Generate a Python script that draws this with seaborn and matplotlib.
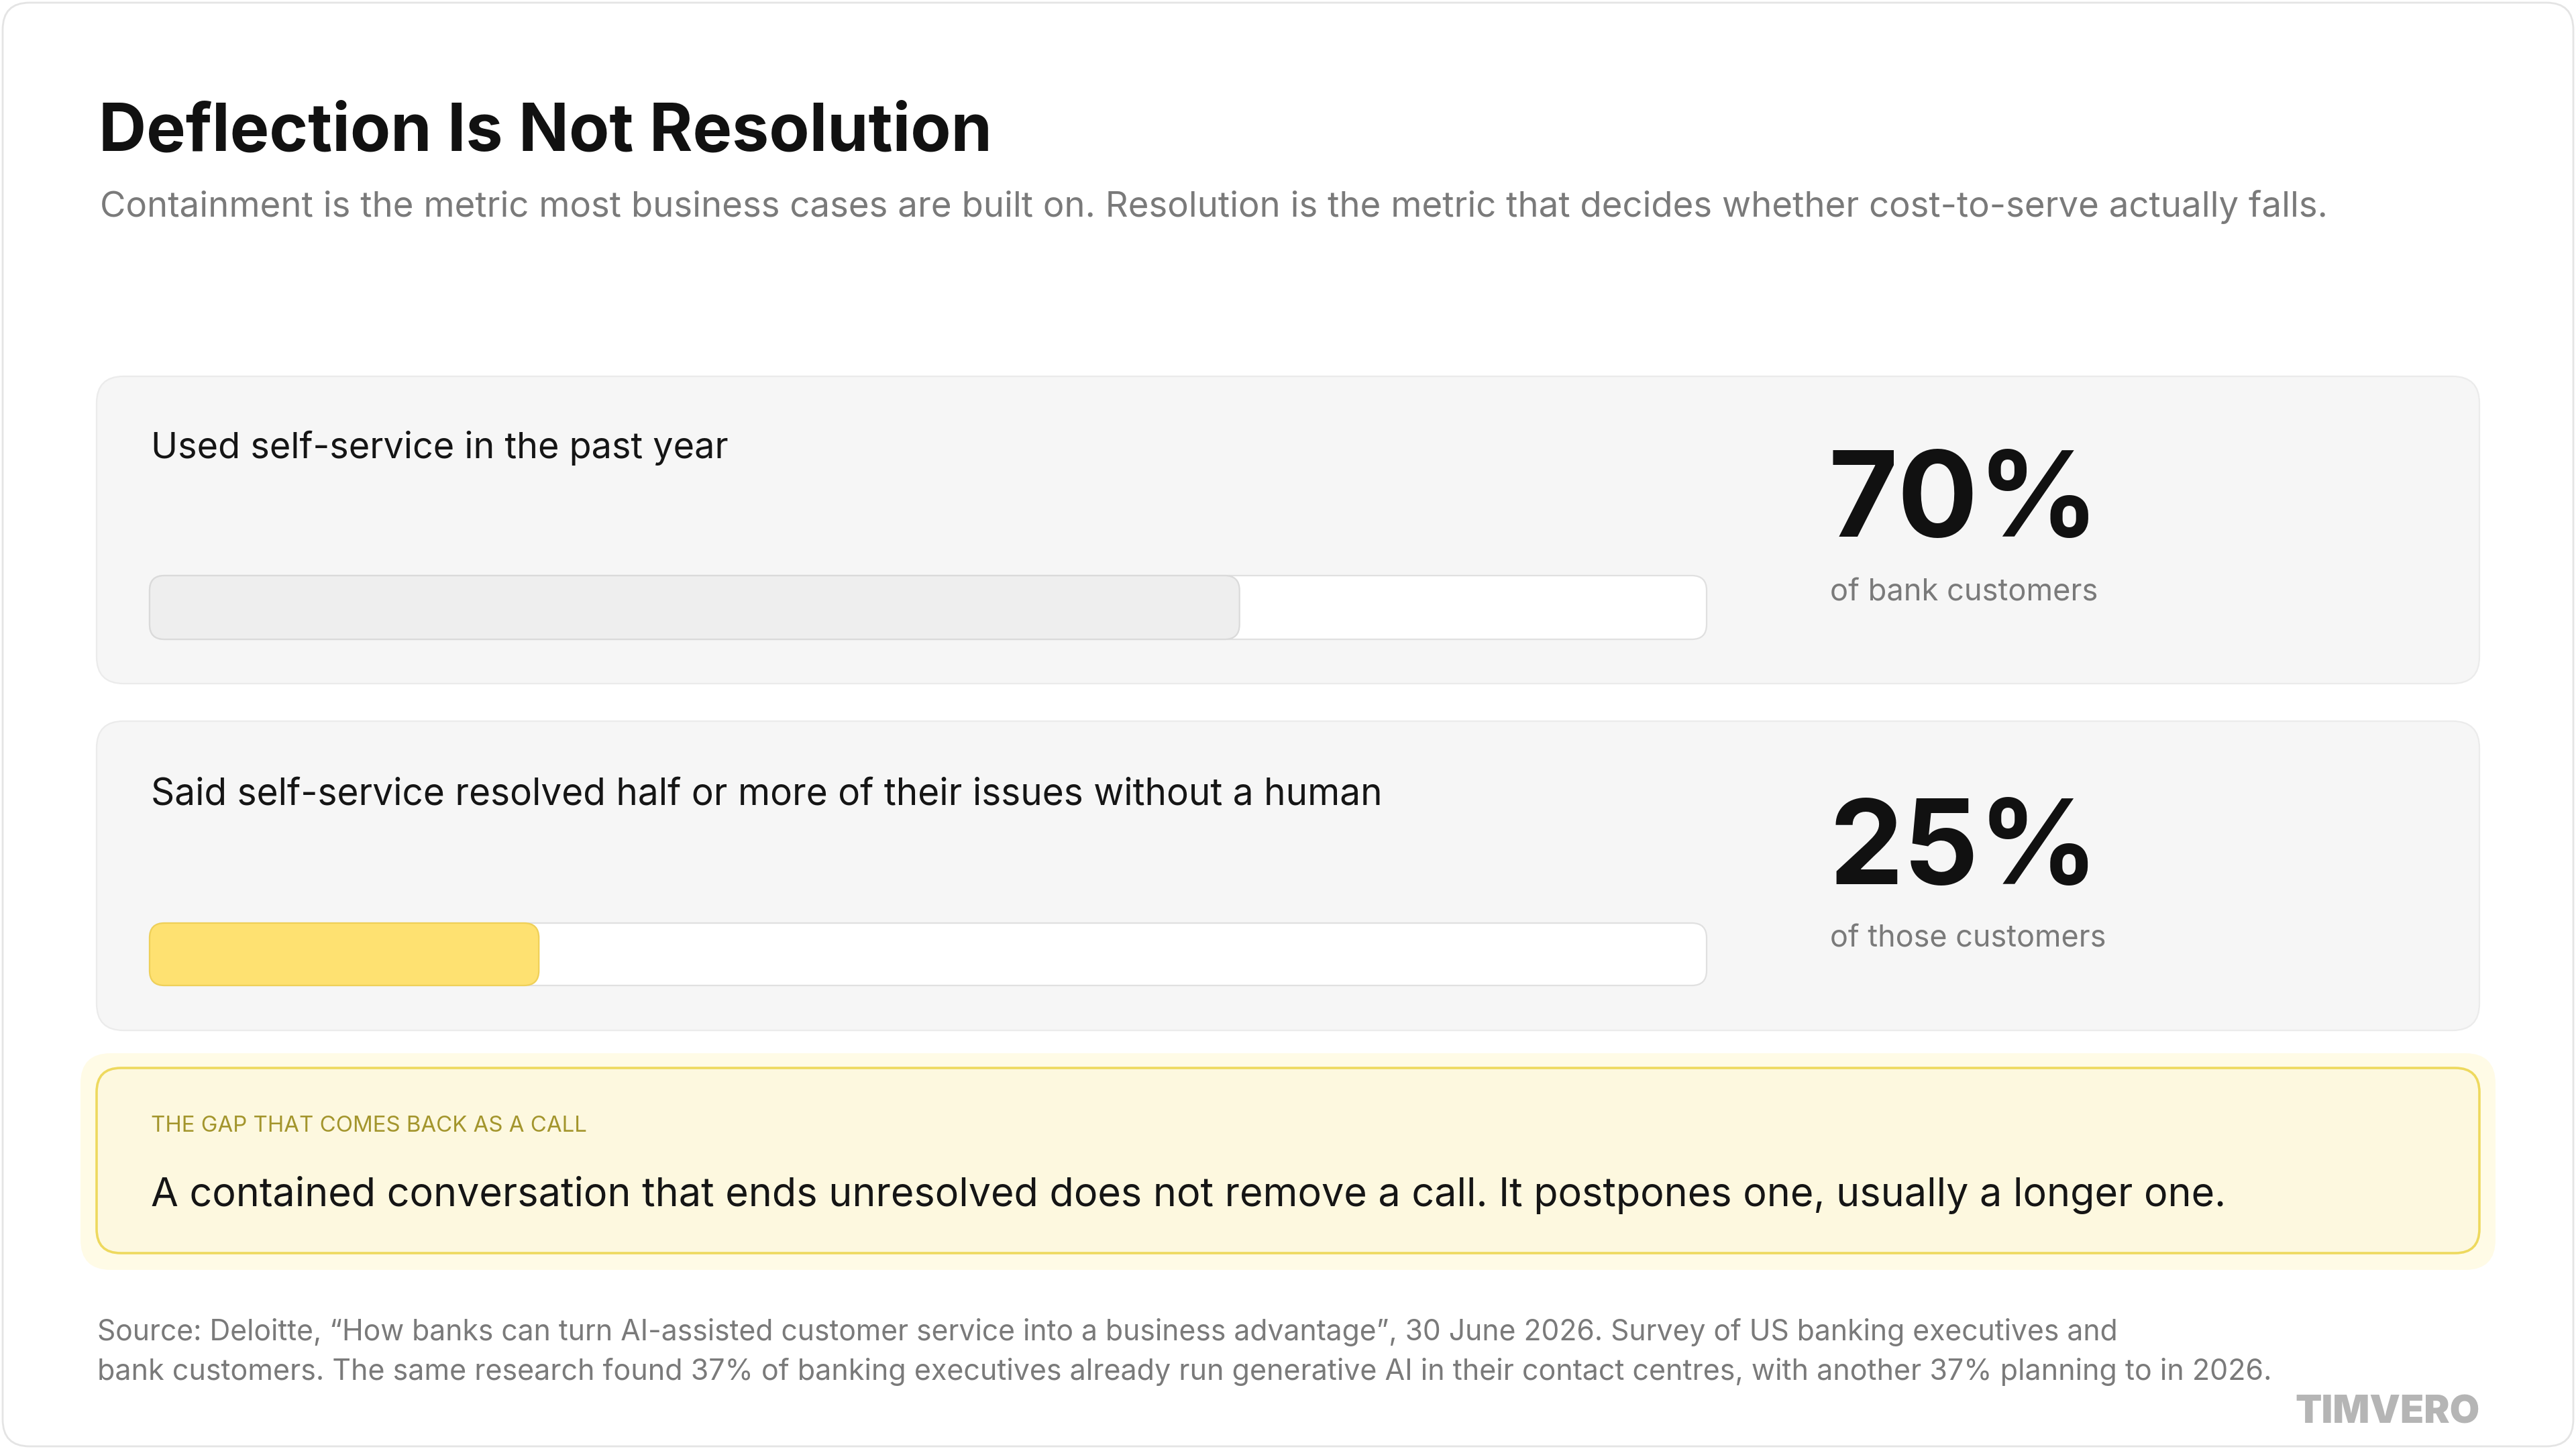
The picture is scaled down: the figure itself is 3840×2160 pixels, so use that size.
import matplotlib
matplotlib.use("Agg")
import matplotlib.pyplot as plt
from matplotlib.patches import FancyBboxPatch
import seaborn as sns
import pandas as pd

# ---------------- data ----------------
title = "Deflection Is Not Resolution"
subtitle = ("Containment is the metric most business cases are built on. "
            "Resolution is the metric that decides whether cost-to-serve actually falls.")
metric_labels = ["Used self-service in the past year",
                 "Said self-service resolved half or more of their issues without a human"]
metric_values = [70, 25]
metric_bases = ["of bank customers", "of those customers"]
callout_kicker = "THE GAP THAT COMES BACK AS A CALL"
callout_text = ("A contained conversation that ends unresolved does not remove a call. "
                "It postpones one, usually a longer one.")
source_lines = [
    "Source: Deloitte, \u201cHow banks can turn AI-assisted customer service into a business advantage\u201d, "
    "30 June 2026. Survey of US banking executives and",
    "bank customers. The same research found 37% of banking executives already run generative AI "
    "in their contact centres, with another 37% planning to in 2026.",
]
brand = "TIMVERO"

# ---------------- style ----------------
sns.set_theme(style="white")
plt.rcParams['font.family'] = ['Inter', 'DejaVu Sans']

W, H = 3840, 2160
fig = plt.figure(figsize=(19.2, 10.8), dpi=200)
fig.patch.set_facecolor("white")
bg = fig.add_axes([0, 0, 1, 1])
bg.set_xlim(0, W)
bg.set_ylim(H, 0)
bg.axis("off")
renderer = fig.canvas.get_renderer()


def rbox(x0, y0, x1, y1, r, fc, ec="none", lw=0.0, z=1):
    p = FancyBboxPatch((x0, y0), x1 - x0, y1 - y0,
                       boxstyle=f"round,pad=0,rounding_size={r}",
                       fc=fc, ec=ec, lw=lw, zorder=z)
    bg.add_patch(p)
    return p


def ftext(x, y, s, target_w, size, **kw):
    t = bg.text(x, y, s, fontsize=size, va="baseline", ha="left", zorder=10, **kw)
    w = t.get_window_extent(renderer).width
    t.set_fontsize(size * target_w / w)
    return t


# outer frame
rbox(4, 4, W - 4, H - 4, 40, "white", "#e4e4e4", 1.0, z=0)

# title & subtitle
ftext(147, 225, title, 1332, 32, fontweight="bold", color="#111111")
ftext(149, 323, subtitle, 3319, 20, color="#7a7a7a")

# cards
cards = [(561, 1019), (1075, 1536)]
label_baselines = [683, 1200]
label_widths = [862, 1839]
tracks = [(858, 953), (1376, 1469)]
big_baselines = [800, 1318]
big_widths = [404, 402]
base_baselines = [895, 1412]
base_widths = [399, 411]
bar_colors = ["#eeeeee", "#fee171"]
bar_edges = ["#dadada", "#efd058"]
bx0, bx1 = 223, 2544
inv = bg.transData.inverted()

for i, (label, val) in enumerate(zip(metric_labels, metric_values)):
    cy0, cy1 = cards[i]
    rbox(144, cy0, 3696, cy1, 40, "#f6f6f6", "#ebebeb", 0.8, z=1)
    ftext(225, label_baselines[i], label, label_widths[i], 18, color="#151515")
    ftext(2726, big_baselines[i], f"{val}%", big_widths[i], 68,
          fontweight="bold", color="#111111")
    ftext(2728, base_baselines[i], metric_bases[i], base_widths[i], 16, color="#7a7a7a")

    ty0, ty1 = tracks[i]
    ax = fig.add_axes([bx0 / W, 1 - ty1 / H, (bx1 - bx0) / W, (ty1 - ty0) / H])
    df = pd.DataFrame({"metric": [label], "value": [val]})
    sns.barplot(data=df, x="value", y="metric", orient="h", width=1.0,
                color=bar_colors[i], saturation=1, ax=ax)
    ax.set_xlim(0, 100)
    ax.set_ylim(0.5, -0.5)
    ax.axis("off")
    ax.patch.set_alpha(0)

    # track (full scale extent)
    (a0, b0) = inv.transform(ax.transAxes.transform((0, 1)))
    (a1, b1) = inv.transform(ax.transAxes.transform((1, 0)))
    rbox(a0, b0, a1, b1, 22, "white", "#e0e0e0", 0.8, z=2)

    # value bar, rounded, from seaborn's bar geometry
    p = ax.patches[0]
    (X0, Y0) = inv.transform(ax.transData.transform((p.get_x(), p.get_y())))
    (X1, Y1) = inv.transform(ax.transData.transform((p.get_x() + p.get_width(),
                                                     p.get_y() + p.get_height())))
    p.set_visible(False)
    rbox(min(X0, X1), min(Y0, Y1), max(X0, X1), max(Y0, Y1), 22,
         bar_colors[i], bar_edges[i], 0.8, z=3)

# callout
rbox(120, 1570, 3720, 1893, 45, "#fffbe6", z=1)
rbox(144, 1592, 3696, 1868, 36, "#fdf8df", "#eed95e", 1.3, z=2)
ftext(225, 1687, callout_kicker, 649, 11.5, color="#a3952c")
ftext(225, 1798, callout_text, 3093, 19, color="#151515")

# footer
ftext(145, 1998, source_lines[0], 3017, 15, color="#7a7a7a")
ftext(145, 2057, source_lines[1], 3247, 15, color="#7a7a7a")
ftext(3421, 2121, brand, 275, 25, fontweight="black", color="#b5b5b5")

fig.savefig("out.png", dpi=200, facecolor="white")
